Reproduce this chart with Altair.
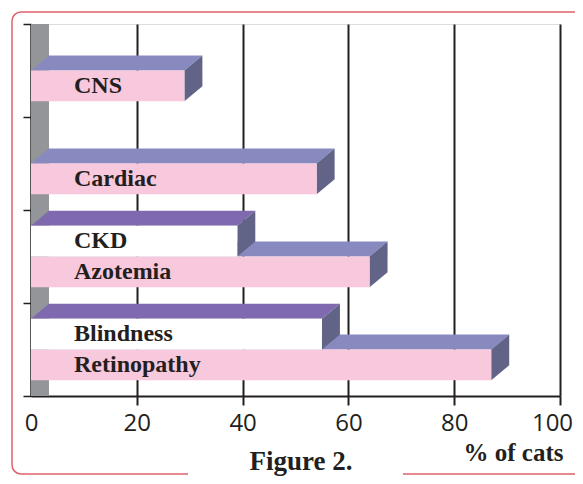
import altair as alt
import pandas as pd

# ---- data ----
labels = ["CNS", "Cardiac", "CKD", "Azotemia", "Blindness", "Retinopathy"]
values = [29, 54, 39, 64, 55, 87]
groups = [0, 1, 2, 2, 3, 3]
slots = ["lower", "lower", "upper", "lower", "upper", "lower"]
styles = ["pink", "pink", "white", "pink", "white", "pink"]
x_ticks = [0, 20, 40, 60, 80, 100]

# ---- 3D geometry (data units) ----
DEPTH_X = 3.4
DEPTH_Y = 0.161
BAR_H = 0.33
SLOT_TOP = {"upper": 0.17, "lower": 0.5}

front_fill = {"pink": "#F8C8DC", "white": "#FFFFFF"}
top_fill = {"pink": "#8889BF", "white": "#7F6AAF"}
SIDE = "#626487"
WALL = "#939598"
INK = "#231F20"

front_rows, top_rows, side_rows = [], [], []
for lab, v, g, s, st in zip(labels, values, groups, slots, styles):
    yt = g + SLOT_TOP[s]
    yb = yt + BAR_H
    front_rows.append(dict(label=lab, slot=s, xa=0, xb=v, ya=yt, yb=yb,
                           col=front_fill[st], ymid=(yt + yb) / 2))
    # top face: horizontal area, y is the independent axis
    top_rows.append(dict(label=lab, slot=s, col=top_fill[st], ya=yt, xa=0, xb=v))
    top_rows.append(dict(label=lab, slot=s, col=top_fill[st], ya=yt - DEPTH_Y,
                         xa=DEPTH_X, xb=v + DEPTH_X))
    # side face: vertical area, x is the independent axis
    side_rows.append(dict(label=lab, slot=s, col=SIDE, xa=v, ya=yb, yb=yt))
    side_rows.append(dict(label=lab, slot=s, col=SIDE, xa=v + DEPTH_X,
                          ya=yb - DEPTH_Y, yb=yt - DEPTH_Y))

front_df = pd.DataFrame(front_rows)
top_df = pd.DataFrame(top_rows)
side_df = pd.DataFrame(side_rows)
wall_df = pd.DataFrame([dict(xa=0, xb=DEPTH_X, ya=0, yb=4)])
one = pd.DataFrame([{"a": 1}])

xscale = alt.Scale(domain=[0, 100], nice=False, zero=True)
yscale = alt.Scale(domain=[0, 4], reverse=True, nice=False)

xaxis = alt.Axis(values=x_ticks, grid=True, gridColor=INK, gridWidth=2,
                 domainColor=INK, domainWidth=2, tickColor=INK, tickWidth=2,
                 tickOpacity={"condition": {"test": "datum.value === 0", "value": 0}, "value": 1},
                 tickSize=9, labelFont="Open Sans", labelFontSize=24,
                 labelColor=INK, labelPadding=6, labelFlush=False, labelOverlap=False,
                 labelOffset={"condition": {"test": "datum.value === 100", "value": -8}, "value": 0},
                 title="% of cats",
                 titleFont="Liberation Serif", titleFontSize=25,
                 titleFontWeight="bold", titleColor=INK, titleAlign="right",
                 titleAnchor="end", titleX=532, titleY=64, titleBaseline="alphabetic")
yaxis = alt.Axis(values=[0, 1, 2, 3, 4], labels=False, grid=False, title=None,
                 domainColor=INK, domainWidth=2, tickColor=INK, tickWidth=1.5,
                 tickSize=8)

border = alt.Chart(one).mark_rect(fillOpacity=0, stroke="#E0606B", strokeWidth=1.5,
                                  cornerRadius=9).encode(
    x=alt.value(-19), x2=alt.value(640), y=alt.value(-12), y2=alt.value(450))
cut = alt.Chart(one).mark_rect(fill="white").encode(
    x=alt.value(157), x2=alt.value(372), y=alt.value(445), y2=alt.value(455))
fig_title = alt.Chart(one).mark_text(text="Figure 2.", font="Liberation Serif",
                                     fontSize=27, fontWeight="bold", color=INK,
                                     align="center", baseline="alphabetic").encode(
    x=alt.value(270), y=alt.value(446))

wall = alt.Chart(wall_df).mark_rect(color=WALL).encode(
    x=alt.X("xa:Q", scale=xscale, axis=xaxis), x2="xb:Q",
    y=alt.Y("ya:Q", scale=yscale, axis=yaxis), y2="yb:Q")

layers = [border, cut, fig_title, wall]
for s in ["lower", "upper"]:
    top = alt.Chart(top_df[top_df.slot == s]).mark_area(orient="horizontal").encode(
        y=alt.Y("ya:Q", scale=yscale),
        x=alt.X("xa:Q", scale=xscale, stack=None), x2="xb:Q",
        fill=alt.Fill("col:N", scale=None), detail="label:N")
    side = alt.Chart(side_df[side_df.slot == s]).mark_area(orient="vertical").encode(
        x=alt.X("xa:Q", scale=xscale),
        y=alt.Y("ya:Q", scale=yscale, stack=None), y2="yb:Q",
        fill=alt.Fill("col:N", scale=None), detail="label:N")
    front = alt.Chart(front_df[front_df.slot == s]).mark_rect().encode(
        x=alt.X("xa:Q", scale=xscale), x2="xb:Q",
        y=alt.Y("ya:Q", scale=yscale), y2="yb:Q",
        fill=alt.Fill("col:N", scale=None))
    layers += [top, side, front]

text = alt.Chart(front_df).mark_text(font="Liberation Serif", fontSize=24,
                                     fontWeight="bold", color=INK, align="left",
                                     baseline="middle", dy=0).encode(
    x=alt.value(43), y=alt.Y("ymid:Q", scale=yscale), text="label:N")
layers.append(text)

chart = alt.layer(*layers).properties(
    width=529, height=372,
    autosize=alt.AutoSizeParams(type="none"),
    padding={"left": 23, "top": 16, "right": 15, "bottom": 80},
).configure_view(stroke="#9A9A9A", strokeWidth=2).configure(background="white")

chart.save("out.html", embed_options={"renderer": "svg", "actions": False})
